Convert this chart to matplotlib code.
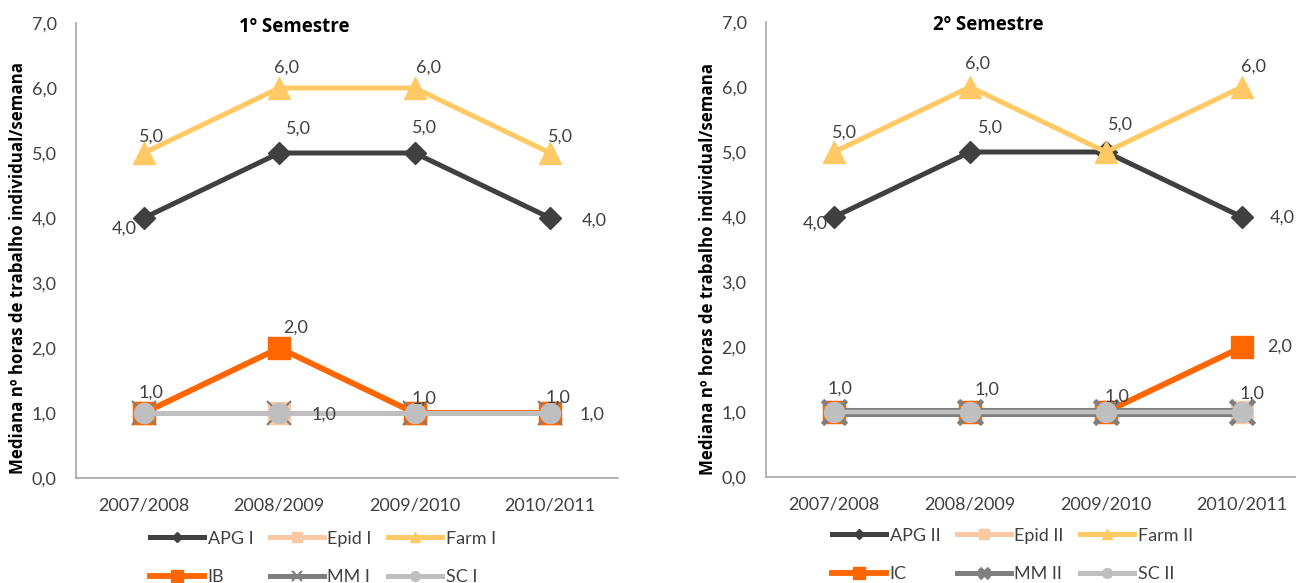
import matplotlib
matplotlib.use("Agg")
import matplotlib.pyplot as plt
from matplotlib.lines import Line2D
from matplotlib.ticker import FuncFormatter

plt.rcParams['font.family'] = ['Lato', 'DejaVu Sans']

# ---- data ----
anos = ["2007/2008", "2008/2009", "2009/2010", "2010/2011"]

apg_1 = [4.0, 5.0, 5.0, 4.0]
epid_1 = [1.0, 1.0, 1.0, 1.0]
farm_1 = [5.0, 6.0, 6.0, 5.0]
ib_1 = [1.0, 2.0, 1.0, 1.0]
mm_1 = [1.0, 1.0, 1.0, 1.0]
sc_1 = [1.0, 1.0, 1.0, 1.0]

apg_2 = [4.0, 5.0, 5.0, 4.0]
epid_2 = [1.0, 1.0, 1.0, 1.0]
farm_2 = [5.0, 6.0, 5.0, 6.0]
ic_2 = [1.0, 1.0, 1.0, 2.0]
mm_2 = [1.0, 1.0, 1.0, 1.0]
sc_2 = [1.0, 1.0, 1.0, 1.0]

nomes_1 = ["APG I", "Epid I", "Farm I", "IB", "MM I", "SC I"]
nomes_2 = ["APG II", "Epid II", "Farm II", "IC", "MM II", "SC II"]

titulo_1 = "1º Semestre"
titulo_2 = "2º Semestre"
rotulo_y = "Mediana nº horas de trabalho individual/semana"

# ---- styles ----
C_APG = "#404040"
C_EPID = "#F9C9A3"
C_FARM = "#FFC966"
C_IB = "#FF6600"
C_MM = "#7F7F7F"
C_SC = "#BFBFBF"
C_TXT = "#404040"
C_AX = "#A6A6A6"

FS = 13
FAM_TIT = ['Open Sans', 'DejaVu Sans']

W, H = 1296, 583
fig = plt.figure(figsize=(W / 100, H / 100), dpi=100)


def px_axes(x0, top, x1, bottom):
    return [x0 / W, 1 - bottom / H, (x1 - x0) / W, (bottom - top) / H]


def virgula(v, pos=None):
    return f"{v:.1f}".replace(".", ",")


def painel(ax, series, nomes, titulo, pos_titulo, rotulos, mm_mew, mm_lw, sc_lw):
    apg, epid, farm, ib, mm, sc = series
    x = range(len(anos))
    ax.plot(x, apg, color=C_APG, lw=3.6, marker="D", ms=11, zorder=3)
    ax.plot(x, epid, color=C_EPID, lw=3.6, marker="s", ms=16, zorder=3.1)
    ax.plot(x, farm, color=C_FARM, lw=3.6, marker="^", ms=16, zorder=3.2)
    ax.plot(x, ib, color=C_IB, lw=4.2, marker="s", ms=16, zorder=3.3)
    ax.plot(x, mm, color=C_MM, lw=mm_lw, marker="x", ms=17, mew=mm_mew, zorder=3.4)
    ax.plot(x, sc, color=C_SC, lw=sc_lw, marker="o", ms=14.5, zorder=3.5)

    # data labels (offsets in pixels, y down)
    for valores, offs in zip(series, rotulos):
        for i, (v, off) in enumerate(zip(valores, offs)):
            if off is None:
                continue
            ax.annotate(virgula(v), (i, v), xytext=(off[0], -off[1]),
                        textcoords="offset pixels", ha="center", va="center",
                        fontsize=FS, color=C_TXT, zorder=5)

    ax.set_xlim(-0.5, len(anos) - 0.5)
    ax.set_ylim(0, 7)
    ax.set_yticks(range(0, 8))
    ax.yaxis.set_major_formatter(FuncFormatter(virgula))
    ax.set_xticks(list(x))
    ax.set_xticklabels(anos)
    ax.tick_params(length=0, labelsize=FS, colors=C_TXT)
    ax.tick_params(axis="y", pad=14)
    ax.tick_params(axis="x", pad=14)
    for s in ("top", "right"):
        ax.spines[s].set_visible(False)
    for s in ("left", "bottom"):
        ax.spines[s].set_color(C_AX)
        ax.spines[s].set_linewidth(1.2)
    ax.set_facecolor("none")

    fig.text(pos_titulo[0] / W, 1 - pos_titulo[1] / H, titulo, fontsize=13.5,
             fontweight="bold", color="black", ha="center", va="center",
             family=FAM_TIT)

    handles = [
        Line2D([], [], color=C_APG, lw=3.6, marker="D", ms=5),
        Line2D([], [], color=C_EPID, lw=3.6, marker="s", ms=7),
        Line2D([], [], color=C_FARM, lw=3.6, marker="^", ms=7),
        Line2D([], [], color=C_IB, lw=4.2, marker="s", ms=8),
        Line2D([], [], color=C_MM, lw=3.6, marker="x", ms=7, mew=mm_mew),
        Line2D([], [], color=C_SC, lw=3.6, marker="o", ms=7),
    ]
    ordem = [0, 3, 1, 4, 2, 5]
    return [handles[k] for k in ordem], [nomes[k] for k in ordem]


# left panel
ax1 = fig.add_axes(px_axes(76, 23, 618, 478))
rot_1 = [
    [(-20, 11), (19, -24), (10, -25), (44, 3)],   # APG I
    [None, None, None, None],                     # Epid I
    [(8, -16), (7, -20), (14, -20), (10, -16)],   # Farm I
    [(7, -20), (16, -20), (9, -14), (8, -15)],    # IB
    [None, None, None, None],                     # MM I
    [None, (45, 2), None, (42, 2)],               # SC I
]
h1, l1 = painel(ax1, [apg_1, epid_1, farm_1, ib_1, mm_1, sc_1], nomes_1,
                titulo_1, (294, 27), rot_1, mm_mew=1.5, mm_lw=2.5, sc_lw=3.6)

# right panel
ax2 = fig.add_axes(px_axes(766, 22, 1310, 477))
rot_2 = [
    [(-19, 7), (20, -24), None, (40, 1)],         # APG II
    [None, None, None, None],                     # Epid II
    [(10, -19), (7, -23), (14, -27), (12, -20)],  # Farm II
    [None, None, None, (38, 0)],                  # IC
    [None, None, None, None],                     # MM II
    [(6, -23), (17, -22), (11, -15), (10, -18)],  # SC II
]
h2, l2 = painel(ax2, [apg_2, epid_2, farm_2, ic_2, mm_2, sc_2], nomes_2,
                titulo_2, (988, 25), rot_2, mm_mew=3.5, mm_lw=6.5, sc_lw=3.2)

# y-axis titles
for xc, yc in ((18, 268), (708, 269)):
    fig.text(xc / W, 1 - yc / H, rotulo_y, rotation=90, ha="center",
             va="center", fontsize=12.2, fontweight="bold", color="black",
             family=FAM_TIT)

# legends
for ax, h, l, x0, yc in ((ax1, h1, l1, 150, 558), (ax2, h2, l2, 832, 555)):
    leg = ax.legend(h, l, ncol=3, loc="center left",
                    bbox_to_anchor=(x0 / W, 1 - yc / H),
                    bbox_transform=fig.transFigure, frameon=False,
                    fontsize=FS, handlelength=3.0, handletextpad=0.2,
                    columnspacing=0.9, labelspacing=1.25, borderpad=0,
                    borderaxespad=0)
    for t in leg.get_texts():
        t.set_color(C_TXT)

fig.savefig("out.png", dpi=100)
